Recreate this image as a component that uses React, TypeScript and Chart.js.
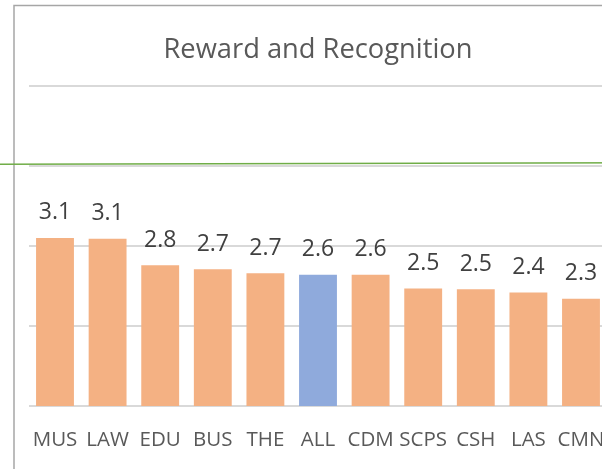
import React, { useEffect, useRef } from "react";
import { Chart, registerables } from "chart.js";

Chart.register(...registerables);

const TITLE = "Reward and Recognition";
const categories = ["MUS", "LAW", "EDU", "BUS", "THE", "ALL", "CDM", "SCPS", "CSH", "LAS", "CMN"];
const values = [3.1, 3.09, 2.76, 2.71, 2.66, 2.64, 2.64, 2.47, 2.46, 2.42, 2.34];
const highlight = "ALL";
const yMin = 1;
const yMax = 5;
const refLineStart = 4.02;
const refLineEnd = 4.04;

const ORANGE = "#F4B183";
const BLUE = "#8FAADC";
const FONT = '"Open Sans", "Noto Sans", sans-serif';

const decorations = {
  id: "decorations",
  beforeDraw(chart: any) {
    const ctx = chart.ctx;
    ctx.save();
    ctx.strokeStyle = "#A6A6A6";
    ctx.lineWidth = 1.5;
    ctx.beginPath();
    ctx.moveTo(14, chart.height);
    ctx.lineTo(14, 5.5);
    ctx.lineTo(chart.width, 5.5);
    ctx.stroke();
    ctx.restore();
  },
  afterDraw(chart: any) {
    const ctx = chart.ctx;
    const y = chart.scales.y;
    ctx.save();
    ctx.strokeStyle = "#70AD47";
    ctx.lineWidth = 1.5;
    ctx.beginPath();
    ctx.moveTo(0, y.getPixelForValue(refLineStart));
    ctx.lineTo(chart.width, y.getPixelForValue(refLineEnd));
    ctx.stroke();
    ctx.restore();
  },
  afterDatasetsDraw(chart: any) {
    const ctx = chart.ctx;
    const meta = chart.getDatasetMeta(0);
    ctx.save();
    ctx.font = `23px ${FONT}`;
    ctx.fillStyle = "#404040";
    ctx.textAlign = "center";
    ctx.textBaseline = "alphabetic";
    meta.data.forEach((bar: any, i: number) => {
      ctx.fillText(values[i].toFixed(1), bar.x, bar.y - 18.5);
    });
    ctx.restore();
  },
};

export default function App() {
  const ref = useRef<HTMLCanvasElement | null>(null);
  useEffect(() => {
    if (!ref.current) return;
    const chart = new Chart(ref.current, {
      type: "bar",
      data: {
        labels: categories,
        datasets: [
          {
            data: values,
            backgroundColor: categories.map((c) => (c === highlight ? BLUE : ORANGE)),
            categoryPercentage: 1,
            barPercentage: 0.72,
          },
        ],
      },
      options: {
        responsive: false,
        animation: false,
        devicePixelRatio: 1,
        layout: { padding: { left: 28.7, right: 32.7, top: 0, bottom: 16.3 } },
        plugins: {
          legend: { display: false },
          tooltip: { enabled: false },
          title: {
            display: true,
            text: TITLE,
            color: "#595959",
            font: { family: FONT, size: 27.3, weight: "normal" },
            padding: { top: 34, bottom: 19 },
          },
        },
        scales: {
          x: {
            grid: { display: false, drawTicks: false },
            border: { display: false },
            ticks: {
              color: "#595959",
              font: { family: FONT, size: 20.5 },
              padding: 21.5,
              maxRotation: 0,
              autoSkip: false,
            },
          },
          y: {
            min: yMin,
            max: yMax,
            grid: { color: "#D9D9D9", lineWidth: 2, drawTicks: false },
            border: { display: false },
            ticks: { display: false, stepSize: 1 },
          },
        },
      },
      plugins: [decorations],
    });
    return () => chart.destroy();
  }, []);
  return (
    <div
      style={{
        position: "fixed",
        left: 0,
        top: 0,
        width: 602,
        height: 469,
        overflow: "hidden",
        background: "#fff",
      }}
    >
      <canvas ref={ref} width={640} height={490} style={{ display: "block", width: 640, height: 490 }} />
    </div>
  );
}
